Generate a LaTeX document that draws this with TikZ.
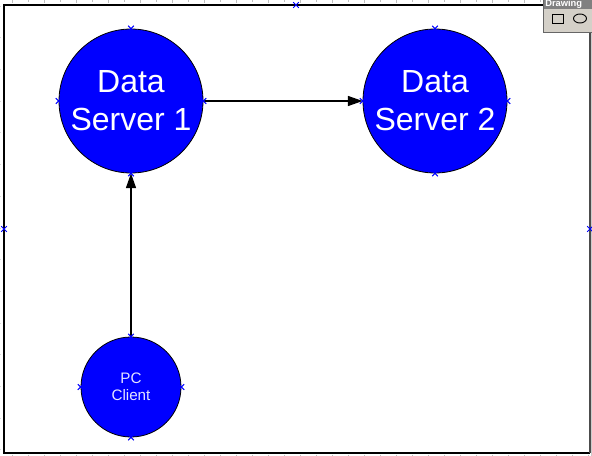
\documentclass[tikz,border=0pt]{standalone}
\usepackage{fontspec}
\setmainfont{Liberation Sans}
\usetikzlibrary{arrows.meta}
\definecolor{vblue}{RGB}{0,0,255}
\definecolor{tbgray}{RGB}{212,208,200}
\definecolor{tbdark}{RGB}{128,128,128}
\begin{document}
\begin{tikzpicture}[x=0.75pt,y=-0.75pt,
  server/.style={circle,draw=black,line width=0.6pt,fill=vblue,minimum size=108pt,inner sep=0pt,
    text=white,align=center,font=\fontsize{24}{28.7}\selectfont},
  client/.style={circle,draw=black,line width=0.6pt,fill=vblue,minimum size=75pt,inner sep=0pt,
    text=white!90!blue,align=center,font=\fontsize{11.4}{12.6}\selectfont},
  conn/.style={line width=0.9pt,-{Triangle[length=11pt,width=7.5pt]}},
  cpt/.style={draw=blue,line width=0.7pt},
  tick/.style={draw=black!25,line width=0.6pt}]
\useasboundingbox (0,0) rectangle (592,456);
\fill[white] (0,0) rectangle (592,456);
% ruler ticks
\foreach \i in {0,...,36} {\draw[tick] ({12+16*\i},0.5) -- ({12+16*\i},{ifthenelse(mod(\i,2)==0,3,2)});}
\foreach \i in {0,...,36} {\draw[tick] ({12+16*\i},454.5) -- ({12+16*\i},456);}
\foreach \i in {0,...,14} {\draw[draw=black!15,line width=0.5pt] (0,{6+31.7*\i}) -- (1.2,{6+31.7*\i});}
% page frame
\draw[black,line width=1.2pt] (590,5) -- (4,5) -- (4,453) -- (590,453);
\draw[black!70,line width=1.8pt] (590,5) -- (590,453);
\fill[black!20] (591.2,5) rectangle (592,456);
% nodes
\node[server] (ds1) at (131,101) {Data\\Server 1};
\node[server] (ds2) at (435,101) {Data\\Server 2};
\node[client] (pc) at (131,387) {PC\\Client};
% connectors
\draw[conn] (ds1.east) -- (ds2.west);
\draw[conn] (pc.north) -- (ds1.south);
% connection point markers
\foreach \n in {ds1,ds2,pc} {
  \foreach \a in {north,south,east,west} {
    \draw[cpt] ([shift={(-2.8,-2.8)}]\n.\a) -- ([shift={(2.8,2.8)}]\n.\a)
               ([shift={(-2.8,2.8)}]\n.\a) -- ([shift={(2.8,-2.8)}]\n.\a);
  }
}
\coordinate (ft) at (296,5);
\coordinate (fl) at (4,229);
\coordinate (fr) at (590,229);
\foreach \c in {ft,fl,fr} {
  \draw[cpt] ([shift={(-2.8,-2.8)}]\c) -- ([shift={(2.8,2.8)}]\c)
             ([shift={(-2.8,2.8)}]\c) -- ([shift={(2.8,-2.8)}]\c);
}
% drawing toolbar
\node[draw=black!60,line width=1pt,fill=tbgray,minimum width=37pt,minimum height=24pt,anchor=north west,inner sep=0pt] (tb) at (543,0) {};
\fill[tbdark] (544,0) rectangle (592,9);
\node[anchor=west,text=white,font=\bfseries\fontsize{7}{7}\selectfont,inner sep=0pt] (tbt) at (545,4) {Drawing};
\draw[black,line width=0.7pt] (552,14) rectangle (563,23);
\draw[black,line width=0.7pt] (580,18.5) ellipse (6.5 and 4.5);
\end{tikzpicture}
\end{document}
